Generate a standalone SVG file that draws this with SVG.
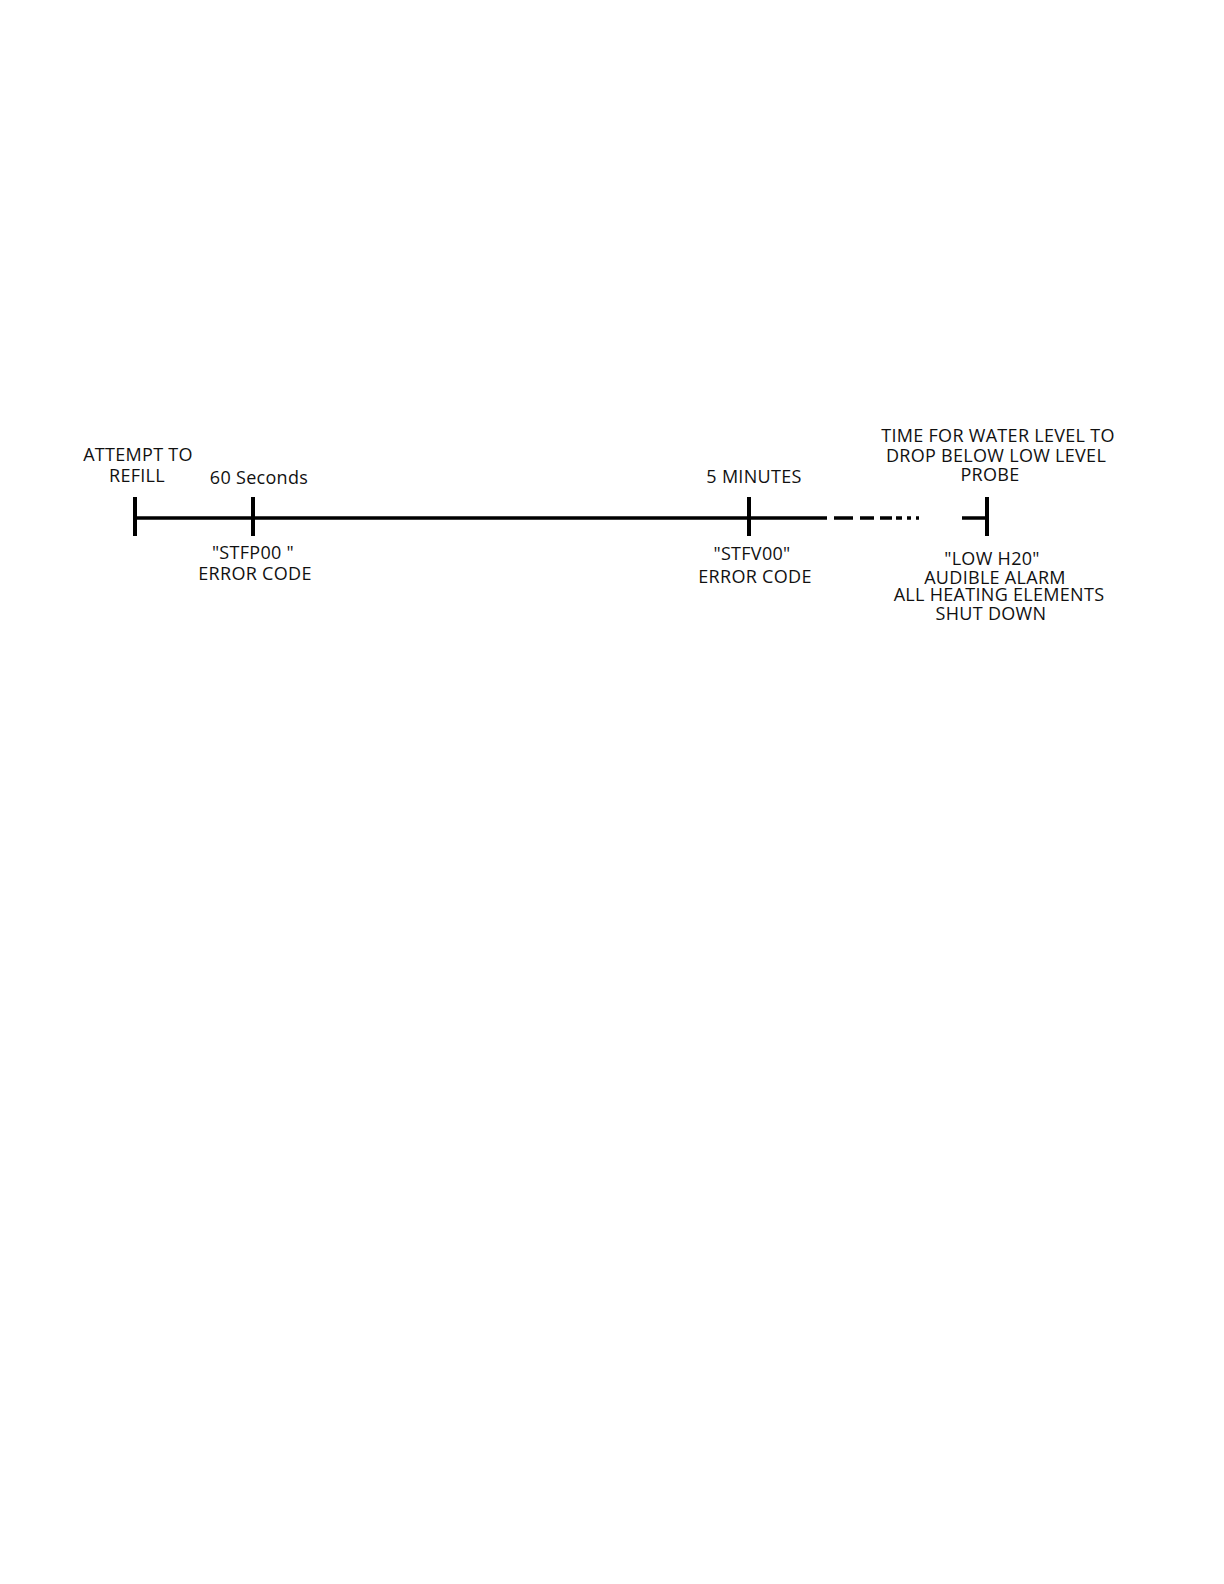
<svg xmlns="http://www.w3.org/2000/svg" width="1224" height="1584" viewBox="0 0 1224 1584">
<style>
  .t { font-family: "Open Sans", "Noto Sans", "Liberation Sans", sans-serif; font-size: 18px; letter-spacing: 0.3px; fill: #111; text-anchor: middle; }
  .ln { stroke: #000; stroke-width: 3.5; fill: none; }
  .tk { stroke: #000; stroke-width: 4; fill: none; }
</style>
<rect width="1224" height="1584" fill="#fff"/>
<g id="connectors">
  <line class="ln" x1="135" y1="518" x2="827" y2="518"/>
  <line class="ln" x1="834" y1="518" x2="853" y2="518"/>
  <line class="ln" x1="860" y1="518" x2="874" y2="518"/>
  <line class="ln" x1="880" y1="518" x2="892" y2="518"/>
  <line class="ln" x1="896" y1="518" x2="902" y2="518"/>
  <line class="ln" x1="907" y1="518" x2="911" y2="518"/>
  <line class="ln" x1="916" y1="518" x2="919" y2="518"/>
  <line class="ln" x1="962" y1="518" x2="987" y2="518"/>
</g>
<g id="start">
  <line class="tk" x1="135" y1="497" x2="135" y2="536"/>
  <text class="t" x="138" y="461">ATTEMPT TO</text>
  <text class="t" x="137" y="482">REFILL</text>
</g>
<g id="sixty-seconds">
  <line class="tk" x1="253" y1="497" x2="253" y2="536"/>
  <text class="t" x="259" y="484">60 Seconds</text>
  <text class="t" x="253" y="559">"STFP00 "</text>
  <text class="t" x="255" y="580">ERROR CODE</text>
</g>
<g id="five-minutes">
  <line class="tk" x1="749" y1="497" x2="749" y2="536"/>
  <text class="t" x="754" y="483">5 MINUTES</text>
  <text class="t" x="752" y="560">"STFV00"</text>
  <text class="t" x="755" y="583">ERROR CODE</text>
</g>
<g id="low-water">
  <line class="tk" x1="987" y1="497" x2="987" y2="536"/>
  <text class="t" x="998" y="442">TIME FOR WATER LEVEL TO</text>
  <text class="t" x="996" y="462">DROP BELOW LOW LEVEL</text>
  <text class="t" x="990" y="481">PROBE</text>
  <text class="t" x="992" y="565">"LOW H20"</text>
  <text class="t" x="995" y="584">AUDIBLE ALARM</text>
  <text class="t" x="999" y="601">ALL HEATING ELEMENTS</text>
  <text class="t" x="991" y="620">SHUT DOWN</text>
</g>
</svg>
